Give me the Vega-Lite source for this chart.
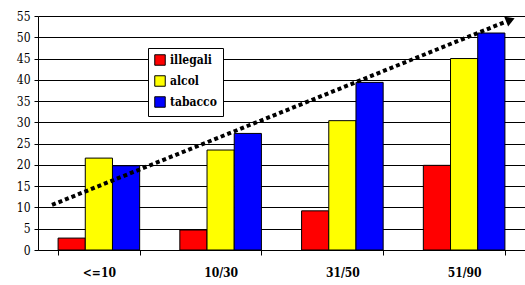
{
  "$schema": "https://vega.github.io/schema/vega-lite/v6.json",
  "width": 487,
  "height": 234,
  "autosize": {"type": "none"},
  "padding": {"left": 38, "top": 16, "right": 0, "bottom": 35},
  "background": "white",
  "config": {
    "view": {"stroke": null},
    "font": "DejaVu Serif Condensed, DejaVu Serif",
    "axis": {"labelFont": "DejaVu Serif Condensed, DejaVu Serif"},
    "legend": {"labelFont": "DejaVu Serif Condensed, DejaVu Serif"}
  },
  "datasets": {
    "bars": [
      {"cat": "<=10", "serie": "illegali", "value": 2.8},
      {"cat": "<=10", "serie": "alcol", "value": 21.6},
      {"cat": "<=10", "serie": "tabacco", "value": 19.8},
      {"cat": "10/30", "serie": "illegali", "value": 4.7},
      {"cat": "10/30", "serie": "alcol", "value": 23.5},
      {"cat": "10/30", "serie": "tabacco", "value": 27.4},
      {"cat": "31/50", "serie": "illegali", "value": 9.2},
      {"cat": "31/50", "serie": "alcol", "value": 30.4},
      {"cat": "31/50", "serie": "tabacco", "value": 39.4},
      {"cat": "51/90", "serie": "illegali", "value": 19.9},
      {"cat": "51/90", "serie": "alcol", "value": 45.0},
      {"cat": "51/90", "serie": "tabacco", "value": 51.0}
    ],
    "trend": [
      {"pos": 0.115, "value": 10.6},
      {"pos": 3.836, "value": 53.6}
    ],
    "arrow": [
      {"pos": 3.88, "value": 54.1}
    ]
  },
  "encoding": {
    "y": {
      "field": "value", "type": "quantitative",
      "scale": {"domain": [0, 55], "nice": false},
      "axis": {
        "title": null, "values": [0,5,10,15,20,25,30,35,40,45,50,55],
        "labelOverlap": false, "labelFont": "DejaVu Serif Condensed, DejaVu Serif",
        "labelFontSize": 12, "labelColor": "black", "labelPadding": 4, "tickSize": 4,
        "tickColor": "black", "domainColor": "black", "gridColor": "black", "gridOpacity": 1
      }
    }
  },
  "layer": [
    {
      "data": {"name": "bars"},
      "mark": {"type": "bar", "stroke": "black", "strokeWidth": 1},
      "encoding": {
        "x": {
          "field": "cat", "type": "nominal", "sort": ["<=10", "10/30", "31/50", "51/90"],
          "scale": {"paddingInner": 0.33, "paddingOuter": 0.165},
          "axis": {
            "title": null, "labelAngle": 0, "labelFontWeight": "bold", "labelFontSize": 12,
            "labelFont": "DejaVu Serif Condensed, DejaVu Serif",
            "labelColor": "black", "labelPadding": 12, "tickBand": "extent", "tickSize": 5,
            "tickColor": "black", "domainColor": "black", "grid": false
          }
        },
        "xOffset": {"field": "serie", "type": "nominal", "sort": ["illegali", "alcol", "tabacco"]},
        "color": {
          "field": "serie", "type": "nominal", "sort": ["illegali", "alcol", "tabacco"],
          "scale": {"domain": ["illegali", "alcol", "tabacco"], "range": ["#FF0000", "#FFFF00", "#0000FF"]},
          "legend": {
            "title": null, "orient": "none", "legendX": 110, "legendY": 32,
            "symbolType": "square", "symbolSize": 110, "symbolStrokeColor": "black", "symbolStrokeWidth": 1,
            "symbolOpacity": 1, "labelFont": "DejaVu Serif Condensed, DejaVu Serif",
            "labelFontWeight": "bold", "labelFontSize": 12, "labelColor": "black",
            "rowPadding": 5, "padding": 6, "fillColor": "white", "strokeColor": "black"
          }
        }
      }
    },
    {
      "data": {"name": "trend"},
      "mark": {"type": "line", "color": "black", "strokeWidth": 4, "strokeDash": [4, 3], "strokeCap": "butt"},
      "encoding": {
        "x": {"field": "pos", "type": "quantitative", "scale": {"domain": [0, 4], "nice": false}, "axis": null}
      }
    },
    {
      "data": {"name": "arrow"},
      "mark": {"type": "point", "shape": "triangle-right", "filled": true, "color": "black", "size": 110, "angle": 338, "opacity": 1},
      "encoding": {
        "x": {"field": "pos", "type": "quantitative", "scale": {"domain": [0, 4], "nice": false}, "axis": null}
      }
    }
  ],
  "resolve": {"scale": {"x": "independent"}}
}
